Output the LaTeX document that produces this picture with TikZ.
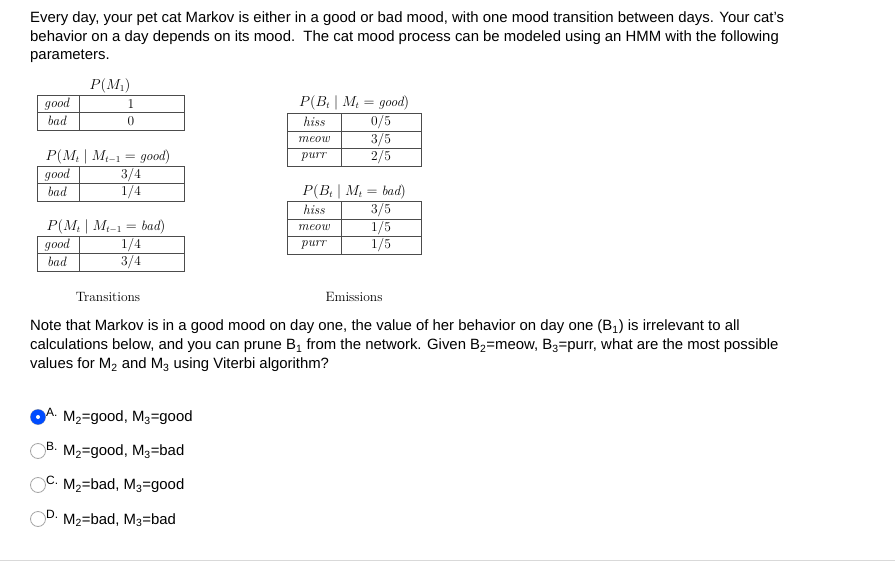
\documentclass[tikz,border=0pt]{standalone}
\usepackage{fontspec}
\setsansfont{Liberation Sans}
\begin{document}
\begin{tikzpicture}[x=1pt,y=-1pt,
  txt/.style={anchor=west,inner sep=0pt,font=\sffamily\fontsize{14.9}{17}\selectfont},
  ser/.style={inner sep=0pt,font=\fontsize{13.5}{14}\selectfont},
  cell/.style={draw,line width=0.6pt,color=black!70}]
\useasboundingbox (0,0) rectangle (895,562);
\fill[white] (0,0) rectangle (895,562);
\newcommand{\sub}[1]{\textsubscript{#1}}
\node[txt] (l1) at (30,19) {Every day, your pet cat Markov is either in a good or bad mood, with one mood transition between days. Your cat's};
\node[txt] (l2) at (30,38) {behavior on a day depends on its mood.\ \ The cat mood process can be modeled using an HMM with the following};
\node[txt] (l3) at (30,56) {parameters.};
% P(M1)
\node[ser] (t1) at (110,86) {$P(M_1)$};
\draw[cell] (37,95) rectangle (184,130); \draw[cell] (37,112.5)--(184,112.5); \draw[cell] (79,95)--(79,130);
\node[ser] (a1) at (57,104) {\textit{good}}; \node[ser] (a2) at (131,104) {1};
\node[ser] (a3) at (57,121) {\textit{bad}}; \node[ser] (a4) at (131,121) {0};
% good
\node[ser] (t2) at (108,157) {$P(M_t\mid M_{t-1}=\textit{good})$};
\draw[cell] (37,166) rectangle (184,201); \draw[cell] (37,183.5)--(184,183.5); \draw[cell] (79,166)--(79,201);
\node[ser] (b1) at (57,175) {\textit{good}}; \node[ser] (b2) at (131,175) {3/4};
\node[ser] (b3) at (57,192) {\textit{bad}}; \node[ser] (b4) at (131,192) {1/4};
% bad
\node[ser] (t3) at (106,227) {$P(M_t\mid M_{t-1}=\textit{bad})$};
\draw[cell] (37,236) rectangle (184,271); \draw[cell] (37,253.5)--(184,253.5); \draw[cell] (79,236)--(79,271);
\node[ser] (c1) at (57,245) {\textit{good}}; \node[ser] (c2) at (131,245) {1/4};
\node[ser] (c3) at (57,262) {\textit{bad}}; \node[ser] (c4) at (131,262) {3/4};
% emissions good
\node[ser] (t4) at (354,103) {$P(B_t\mid M_t=\textit{good})$};
\draw[cell] (287,113) rectangle (421,166); \draw[cell] (287,131)--(421,131); \draw[cell] (287,148.5)--(421,148.5); \draw[cell] (341,113)--(341,166);
\node[ser] (d1) at (314,122) {\textit{hiss}}; \node[ser] (d2) at (381,122) {0/5};
\node[ser] (d3) at (314,140) {\textit{meow}}; \node[ser] (d4) at (381,140) {3/5};
\node[ser] (d5) at (314,157) {\textit{purr}}; \node[ser] (d6) at (381,157) {2/5};
% emissions bad
\node[ser] (t5) at (354,192) {$P(B_t\mid M_t=\textit{bad})$};
\draw[cell] (287,201) rectangle (421,254); \draw[cell] (287,219)--(421,219); \draw[cell] (287,236.5)--(421,236.5); \draw[cell] (341,201)--(341,254);
\node[ser] (e1) at (314,210) {\textit{hiss}}; \node[ser] (e2) at (381,210) {3/5};
\node[ser] (e3) at (314,228) {\textit{meow}}; \node[ser] (e4) at (381,228) {1/5};
\node[ser] (e5) at (314,245) {\textit{purr}}; \node[ser] (e6) at (381,245) {1/5};
\node[ser] (tr) at (108,297) {Transitions};
\node[ser] (em) at (354,297) {Emissions};
% note
\node[txt] (n1) at (30,327) {Note that Markov is in a good mood on day one, the value of her behavior on day one (B\sub{1}) is irrelevant to all};
\node[txt] (n2) at (30,346) {calculations below, and you can prune B\sub{1} from the network. Given B\sub{2}=meow, B\sub{3}=purr, what are the most possible};
\node[txt] (n3) at (30,365) {values for M\sub{2} and M\sub{3} using Viterbi algorithm?};
% options
\foreach \y/\L/\T/\n in {417/A/{M\sub{2}=good, M\sub{3}=good}/oa,451/B/{M\sub{2}=good, M\sub{3}=bad}/ob,485/C/{M\sub{2}=bad, M\sub{3}=good}/oc,519/D/{M\sub{2}=bad, M\sub{3}=bad}/od}{
  \node[circle,draw=black!35,line width=0.8pt,minimum size=15pt,inner sep=0pt] (r\n) at (38,\y) {};
  \node[anchor=west,inner sep=0pt,font=\sffamily\fontsize{12}{12}\selectfont] (l\n) at (46,\y-5) {\L.};
  \node[txt] (\n) at (63,\y+1) {\T};
}
\fill[blue!70!cyan] (roa.center) circle (7.5);
\fill[white] (roa.center) circle (2);
\draw[black!15] (0,560)--(895,560);
\end{tikzpicture}
\end{document}
